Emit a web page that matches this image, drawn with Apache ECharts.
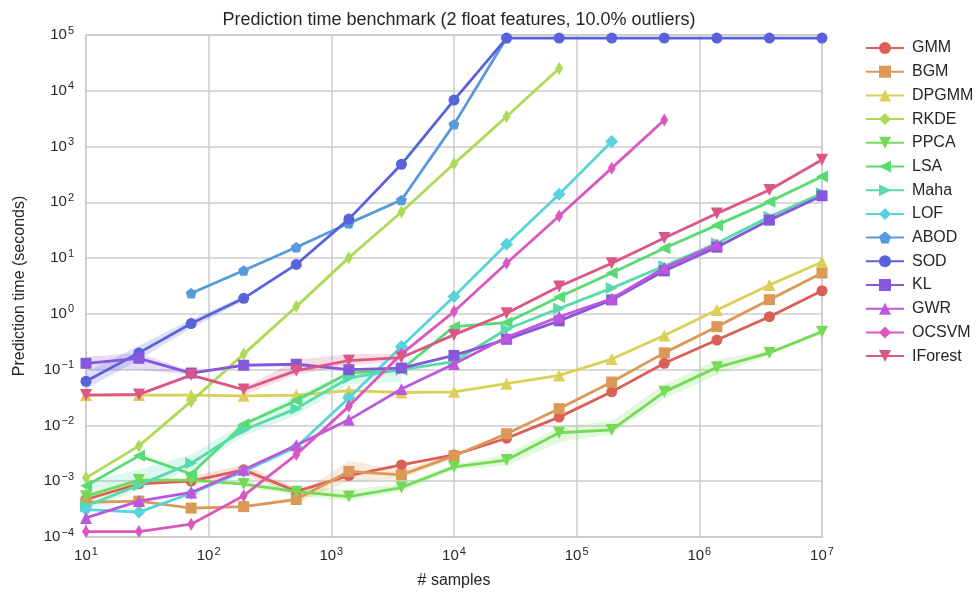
<!DOCTYPE html>
<html>
<head>
<meta charset="utf-8">
<script src="https://cdn.jsdelivr.net/npm/echarts@6/dist/echarts.min.js"></script>
<style>
  html, body { margin: 0; padding: 0; background: #fff; }
  #chart { width: 977px; height: 595px; }
</style>
</head>
<body>
<div id="chart"></div>
<script>
// sample sizes (x)
const nSamples = [10, 27, 72, 193, 518, 1389, 3728, 10000, 26827, 71969, 193070, 517947, 1389495, 3727594, 10000000];

// prediction times (seconds), one array per model
const gmm = [4.7e-4, 9.0e-4, 1.0e-3, 1.6e-3, 6.6e-4, 1.26e-3, 1.96e-3, 2.96e-3, 5.9e-3, 0.0141, 0.04, 0.13, 0.34, 0.89, 2.6];
const bgm = [4.2e-4, 4.4e-4, 3.3e-4, 3.5e-4, 4.7e-4, 1.5e-3, 1.3e-3, 2.85e-3, 7.1e-3, 0.02, 0.06, 0.2, 0.59, 1.8, 5.4];
const dpgmm = [0.035, 0.035, 0.035, 0.034, 0.035, 0.042, 0.039, 0.040, 0.056, 0.079, 0.155, 0.41, 1.17, 3.3, 8.5];
const rkde = [1.15e-3, 4.3e-3, 0.027, 0.19, 1.35, 10.2, 67, 490, 3450, 25000];
const ppca = [5.4e-4, 1.05e-3, 1.05e-3, 8.9e-4, 6.5e-4, 5.3e-4, 7.7e-4, 1.8e-3, 2.4e-3, 7.4e-3, 8.3e-3, 0.04, 0.11, 0.20, 0.48];
const lsa = [8.3e-4, 2.85e-3, 1.35e-3, 0.0105, 0.028, 0.087, 0.1, 0.59, 0.7, 2.0, 5.4, 15, 39, 102, 290];
const maha = [3.6e-4, 8.5e-4, 2.1e-3, 8.3e-3, 0.02, 0.071, 0.1, 0.14, 0.53, 1.25, 2.9, 7.2, 18.5, 55, 145];
const lof = [3.1e-4, 2.8e-4, 6.1e-4, 1.5e-3, 4.1e-3, 0.031, 0.26, 2.05, 17.8, 140, 1230];
const abod = [null, null, 2.35, 6.0, 15.7, 42, 110, 2500, 88000];
const sod = [0.062, 0.2, 0.67, 1.9, 7.7, 50, 480, 6800, 88000, 88000, 88000, 88000, 88000, 88000, 88000];
const kl = [0.13, 0.16, 0.087, 0.12, 0.125, 0.10, 0.107, 0.18, 0.35, 0.75, 1.78, 5.9, 15.7, 48, 131];
const gwr = [2.2e-4, 4.4e-4, 6.3e-4, 1.6e-3, 4.4e-3, 0.0126, 0.045, 0.126, 0.38, 0.89, 1.87, 6.7, 17.5];
const ocsvm = [1.25e-4, 1.25e-4, 1.7e-4, 5.5e-4, 3.0e-3, 0.022, 0.19, 1.1, 8.1, 57, 410, 3000];
const iforest = [0.035, 0.036, 0.08, 0.044, 0.096, 0.145, 0.165, 0.42, 1.03, 3.1, 8.1, 23, 63, 167, 580];

// confidence bands (lower / upper), null where no visible band
const gmmLo = [null, null, 8.5e-4, 1.3e-3, 5.8e-4, null, null, null, null, null, null, 0.11, null];
const gmmHi = [null, null, 1.2e-3, 2.0e-3, 7.5e-4, null, null, null, null, null, null, 0.16, null];
const bgmLo = [null, null, null, null, 4.0e-4, 1.0e-3, 1.1e-3, 2.6e-3];
const bgmHi = [null, null, null, null, 5.5e-4, 2.3e-3, 1.6e-3, 3.1e-3];
const ppcaLo = [null, null, null, 8.0e-4, 5.5e-4, 4.5e-4, 6.5e-4, 1.6e-3, 1.9e-3, 5.0e-3, 7.0e-3, 0.03, 0.08, 0.18];
const ppcaHi = [null, null, null, 1.0e-3, 8.0e-4, 7.0e-4, 9.0e-4, 2.0e-3, 3.0e-3, 9.5e-3, 0.012, 0.055, 0.15, 0.22];
const mahaLo = [3.0e-4, 7.0e-4, 1.6e-3, 6.5e-3, 0.015, 0.055, 0.06];
const mahaHi = [1.0e-3, 1.6e-3, 3.0e-3, 0.011, 0.035, 0.09, 0.1];
const sodLo = [0.045, 0.15, 0.55, 1.7];
const sodHi = [0.09, 0.27, 0.8, 2.1];
const klLo = [0.1, 0.1, 0.08];
const klHi = [0.17, 0.2, 0.095];
const ifLo = [null, null, null, 0.035, 0.081, 0.12, 0.14];
const ifHi = [null, null, null, 0.047, 0.15, 0.19, 0.19];

const pentagon = 'path://M0,-1L0.951,-0.309L0.588,0.809L-0.588,0.809L-0.951,-0.309Z';

const models = [
    {name: 'GMM', data: gmm, color: '#db5f57', symbol: 'circle', size: 11, rot: 0},
    {name: 'BGM', data: bgm, color: '#db9857', symbol: 'rect', size: 11, rot: 0},
    {name: 'DPGMM', data: dpgmm, color: '#dbd057', symbol: 'triangle', size: 12, rot: 0},
    {name: 'RKDE', data: rkde, color: '#aedb57', symbol: 'diamond', size: [8, 13], rot: 0},
    {name: 'PPCA', data: ppca, color: '#75db57', symbol: 'triangle', size: 12, rot: 180},
    {name: 'LSA', data: lsa, color: '#57db72', symbol: 'triangle', size: 12, rot: 90},
    {name: 'Maha', data: maha, color: '#57dbaa', symbol: 'triangle', size: 12, rot: -90},
    {name: 'LOF', data: lof, color: '#57d3db', symbol: 'diamond', size: 13, rot: 0},
    {name: 'ABOD', data: abod, color: '#579adb', symbol: pentagon, size: 11, rot: 0},
    {name: 'SOD', data: sod, color: '#5762db', symbol: 'circle', size: 11, rot: 0},
    {name: 'KL', data: kl, color: '#8557db', symbol: 'rect', size: 11, rot: 0},
    {name: 'GWR', data: gwr, color: '#bd57db', symbol: 'triangle', size: 12, rot: 0},
    {name: 'OCSVM', data: ocsvm, color: '#db57c0', symbol: 'diamond', size: [8, 13], rot: 0},
    {name: 'IForest', data: iforest, color: '#db5788', symbol: 'triangle', size: 12, rot: 180},
];

const bands = [
    {lo: mahaLo, hi: mahaHi, color: '#57dbaa'},
    {lo: gmmLo, hi: gmmHi, color: '#db5f57'},
    {lo: bgmLo, hi: bgmHi, color: '#db9857'},
    {lo: ppcaLo, hi: ppcaHi, color: '#75db57'},
    {lo: sodLo, hi: sodHi, color: '#5762db'},
    {lo: klLo, hi: klHi, color: '#8557db'},
    {lo: ifLo, hi: ifHi, color: '#db5788'},
];

const chart = echarts.init(document.getElementById('chart'));

function powLabel(value) {
    const e = Math.round(Math.log10(value));
    return '{b|10}{s|' + String(e).replace('-', '\u2212') + '}';
}

const tickRich = {
    b: {fontSize: 15, color: '#262626', fontFamily: 'Liberation Sans'},
    s: {fontSize: 11, color: '#262626', fontFamily: 'Liberation Sans', padding: [0, 0, 9, 1]},
};

// shaded band drawn through the axes' own coordinate system
function bandSeries(band) {
    return {
        type: 'custom',
        silent: true,
        z: 1,
        clip: true,
        data: [[nSamples[0], 1]],
        renderItem: function (params, api) {
            const children = [];
            let seg = [];
            const flush = function () {
                if (seg.length > 1) {
                    const upper = seg.map(i => api.coord([nSamples[i], band.hi[i]]));
                    const lower = seg.map(i => api.coord([nSamples[i], band.lo[i]])).reverse();
                    children.push({
                        type: 'polygon',
                        shape: {points: upper.concat(lower)},
                        style: {fill: band.color, opacity: 0.2},
                    });
                }
                seg = [];
            };
            for (let i = 0; i < band.lo.length; i++) {
                if (band.lo[i] == null) flush();
                else seg.push(i);
            }
            flush();
            return {type: 'group', children: children};
        },
    };
}

let series = bands.map(bandSeries);
models.forEach(function (m, k) {
    series.push({
        name: m.name,
        type: 'line',
        z: 3 + k,
        data: m.data.map((v, i) => [nSamples[i], v]).filter(p => p[1] != null),
        symbol: m.symbol,
        symbolSize: m.size,
        symbolRotate: m.rot,
        symbolKeepAspect: true,
        showAllSymbol: true,
        lineStyle: {color: m.color, width: 2.8},
        itemStyle: {color: m.color, borderWidth: 0},
        emphasis: {disabled: true},
        animation: false,
    });
});

const option = {
    animation: false,
    backgroundColor: '#ffffff',
    title: {
        text: 'Prediction time benchmark (2 float features, 10.0% outliers)',
        left: 454,
        textAlign: 'center',
        top: 6,
        textStyle: {fontSize: 18, fontWeight: 'normal', color: '#262626', fontFamily: 'Liberation Sans'},
    },
    legend: {
        orient: 'vertical',
        left: 860,
        top: 35,
        itemWidth: 38,
        itemHeight: 15,
        itemGap: 7.7,
        data: models.map(m => m.name),
        textStyle: {fontSize: 16, color: '#262626', fontFamily: 'Liberation Sans', padding: [0, 0, 0, 3]},
    },
    grid: {
        left: 86, right: 155, top: 35, bottom: 58,
        show: true, borderColor: '#cccccc', borderWidth: 1.5,
    },
    xAxis: {
        type: 'log',
        logBase: 10,
        min: 10,
        max: 1e7,
        name: '# samples',
        nameLocation: 'middle',
        nameGap: 36,
        nameTextStyle: {fontSize: 16, color: '#262626', fontFamily: 'Liberation Sans'},
        axisLine: {show: false},
        axisTick: {show: false},
        minorTick: {show: false},
        splitLine: {show: true, lineStyle: {color: '#cccccc', width: 1.5}},
        axisLabel: {margin: 9, formatter: powLabel, rich: tickRich},
    },
    yAxis: {
        type: 'log',
        logBase: 10,
        min: 1e-4,
        max: 1e5,
        name: 'Prediction time (seconds)',
        nameLocation: 'middle',
        nameGap: 58,
        nameRotate: 90,
        nameTextStyle: {fontSize: 16, color: '#262626', fontFamily: 'Liberation Sans'},
        axisLine: {show: false},
        axisTick: {show: false},
        minorTick: {show: false},
        splitLine: {show: true, lineStyle: {color: '#cccccc', width: 1.5}},
        axisLabel: {margin: 12, formatter: powLabel, rich: tickRich},
    },
    series: series,
};

chart.setOption(option);
</script>
</body>
</html>
